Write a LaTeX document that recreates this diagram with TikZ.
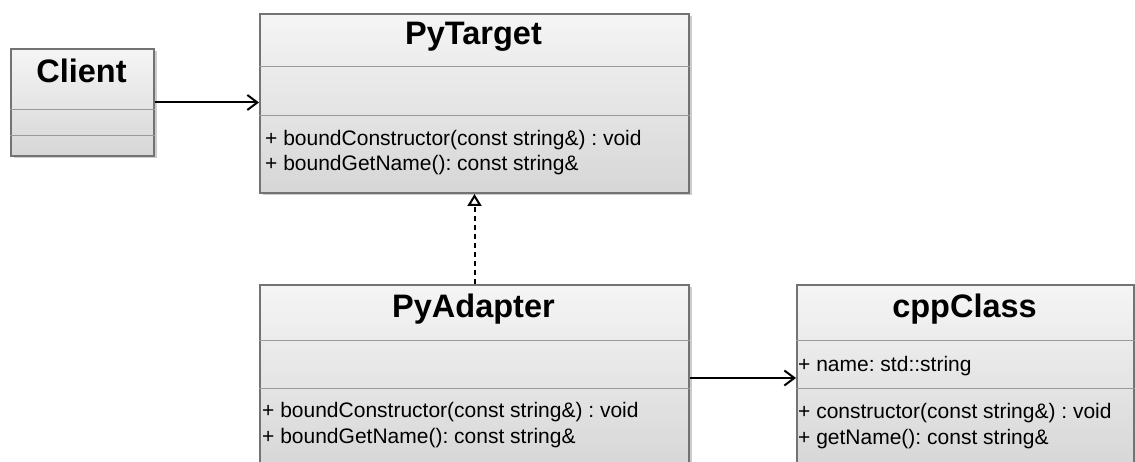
\documentclass[tikz,border=0pt]{standalone}
\usepackage{fontspec}
\setmainfont{Liberation Sans}
\frenchspacing
\usetikzlibrary{shadows,arrows.meta}

\tikzset{
  umlbox/.style={draw=black!55, line width=2pt, anchor=north west, inner sep=0pt,
    top color=black!4, bottom color=black!16,
    drop shadow={shadow xshift=2.5pt, shadow yshift=-2.5pt, fill=black!25, opacity=0.8}},
  sepline/.style={draw=black!40, line width=1pt},
  classname/.style={font=\fontsize{32.5}{36}\selectfont\bfseries, anchor=base, inner sep=0pt},
  member/.style={font=\fontsize{21}{24}\selectfont\frenchspacing, anchor=base west, inner sep=0pt},
  assoc/.style={line width=2pt, -{Straight Barb[length=10pt, width=15pt, line width=2pt]}},
  realize/.style={line width=2pt, dash pattern=on 5pt off 4pt,
    -{Triangle[open, length=12pt, width=14pt, line width=2pt]}},
}

\begin{document}
\begin{tikzpicture}[x=1pt, y=-1pt]
  \useasboundingbox (0,0) rectangle (1135,462);

  % Client
  \node[umlbox, minimum width=143pt, minimum height=107pt] (client) at (10,48) {};
  \draw[sepline] (client.west |- 0,110) -- (client.east |- 0,110);
  \draw[sepline] (client.west |- 0,136) -- (client.east |- 0,136);
  \node[classname] (clientname) at (81.5,83) {Client};

  % PyTarget
  \node[umlbox, minimum width=429pt, minimum height=179pt] (target) at (259,13) {};
  \draw[sepline] (target.west |- 0,67) -- (target.east |- 0,67);
  \draw[sepline] (target.west |- 0,116) -- (target.east |- 0,116);
  \node[classname] (targetname) at (473.5,45) {PyTarget};
  \node[member] (targetm1) at (265,146) {+ boundConstructor(const string\&) : void};
  \node[member] (targetm2) at (265,171) {+ boundGetName(): const string\&};

  % PyAdapter
  \node[umlbox, minimum width=429pt, minimum height=186pt] (adapter) at (259,284) {};
  \draw[sepline] (adapter.west |- 0,340) -- (adapter.east |- 0,340);
  \draw[sepline] (adapter.west |- 0,388) -- (adapter.east |- 0,388);
  \node[classname] (adaptername) at (473.5,318) {PyAdapter};
  \node[member] (adapterm1) at (262,417) {+ boundConstructor(const string\&) : void};
  \node[member] (adapterm2) at (262,443) {+ boundGetName(): const string\&};

  % cppClass
  \node[umlbox, minimum width=337pt, minimum height=186pt] (cppcls) at (796,284) {};
  \draw[sepline] (cppcls.west |- 0,340) -- (cppcls.east |- 0,340);
  \draw[sepline] (cppcls.west |- 0,388) -- (cppcls.east |- 0,388);
  \node[classname] (cppname) at (964.5,318) {cppClass};
  \node[member] (cppattr) at (798,371) {+ name: std::string};
  \node[member] (cppm1) at (798,418) {+ constructor(const string\&) : void};
  \node[member] (cppm2) at (798,444) {+ getName(): const string\&};

  % relations
  \draw[assoc] (client.east) -- (client.east -| target.west);
  \draw[assoc] (adapter.east) -- (adapter.east -| cppcls.west);
  \draw[realize] (adapter.north) -- (adapter.north |- target.south);
\end{tikzpicture}
\end{document}
